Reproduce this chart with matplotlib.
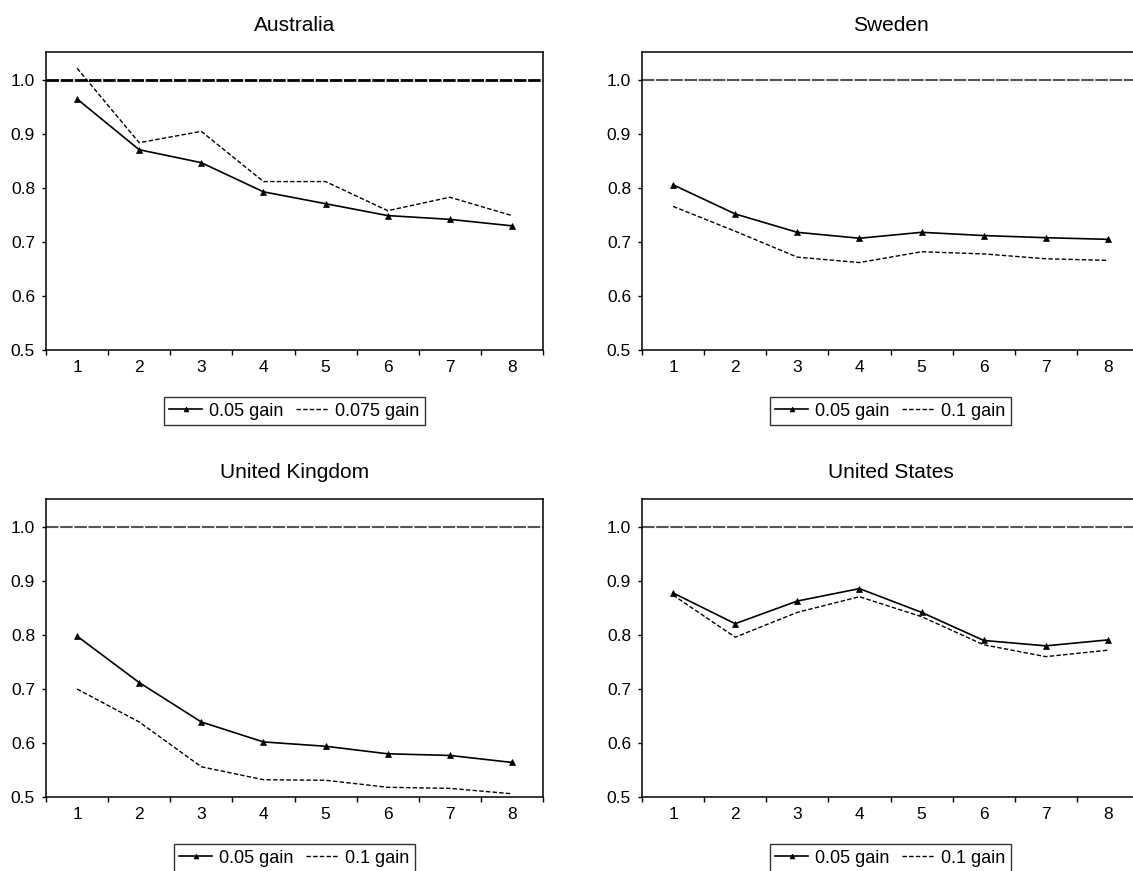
import matplotlib
matplotlib.use("Agg")
import matplotlib.pyplot as plt
from matplotlib.ticker import FixedLocator, NullFormatter, FixedFormatter

plt.rcParams['font.family'] = ['Liberation Sans', 'DejaVu Sans']
plt.rcParams['lines.scale_dashes'] = False

horizons = [1, 2, 3, 4, 5, 6, 7, 8]
countries = ["Australia", "Sweden", "United Kingdom", "United States"]

aus_005 = [0.965, 0.871, 0.847, 0.793, 0.771, 0.749, 0.742, 0.730]
aus_0075 = [1.022, 0.884, 0.905, 0.812, 0.812, 0.758, 0.783, 0.749]
swe_005 = [0.806, 0.752, 0.718, 0.707, 0.718, 0.712, 0.708, 0.705]
swe_01 = [0.766, 0.720, 0.672, 0.662, 0.682, 0.678, 0.669, 0.666]
uk_005 = [0.798, 0.712, 0.639, 0.602, 0.594, 0.580, 0.577, 0.564]
uk_01 = [0.700, 0.639, 0.556, 0.532, 0.531, 0.518, 0.516, 0.506]
us_005 = [0.878, 0.821, 0.863, 0.886, 0.842, 0.790, 0.780, 0.791]
us_01 = [0.874, 0.796, 0.842, 0.871, 0.834, 0.782, 0.760, 0.772]

series = [
    (aus_005, aus_0075, "0.05 gain", "0.075 gain"),
    (swe_005, swe_01, "0.05 gain", "0.1 gain"),
    (uk_005, uk_01, "0.05 gain", "0.1 gain"),
    (us_005, us_01, "0.05 gain", "0.1 gain"),
]
ref_level = 1.0
yticks = [0.5, 0.6, 0.7, 0.8, 0.9, 1.0]
ytick_labels = ["0.5", "0.6", "0.7", "0.8", "0.9", "1.0"]

W, H = 1133, 871
fig = plt.figure(figsize=(W / 100, H / 100), dpi=100)

boxes = [(46, 52, 543, 350), (642, 52, 1139, 350),
         (46, 499, 543, 797), (642, 499, 1139, 797)]
px = 72 / 100  # points per pixel

for i, (name, (s1, s2, l1, l2), (x0, y0, x1, y1)) in enumerate(zip(countries, series, boxes)):
    ax = fig.add_axes([x0 / W, 1 - y1 / H, (x1 - x0) / W, (y1 - y0) / H])
    if i == 0:
        ax.axhline(ref_level, color='black', lw=2.0, dashes=(9, 1.2), zorder=1)
    else:
        ax.axhline(ref_level, color='#555555', lw=1.5, dashes=(9, 1.2), zorder=1)
    h1, = ax.plot(horizons, s1, color='black', lw=1.2, marker='^', ms=4.2,
                  markeredgewidth=0.5, label=l1, zorder=3)
    h2, = ax.plot(horizons, s2, color='black', lw=1.0, dashes=(3.2, 1.6),
                  label=l2, zorder=2)
    ax.set_xlim(0.5, 8.5)
    ax.set_ylim(0.5, 1.052)
    ax.xaxis.set_major_locator(FixedLocator([k + 0.5 for k in range(0, 9)]))
    ax.xaxis.set_major_formatter(NullFormatter())
    ax.xaxis.set_minor_locator(FixedLocator(horizons))
    ax.xaxis.set_minor_formatter(FixedFormatter([str(h) for h in horizons]))
    ax.tick_params(axis='x', which='major', direction='out', length=5 * px, width=1.0)
    ax.tick_params(axis='x', which='minor', length=0, pad=10 * px, labelsize=12.5)
    ax.set_yticks(yticks)
    ax.set_yticklabels(ytick_labels)
    ax.tick_params(axis='y', direction='out', length=4 * px, width=1.0, pad=7 * px, labelsize=12.5)
    ax.tick_params(top=False, right=False)
    for sp in ax.spines.values():
        sp.set_linewidth(1.1)
        sp.set_color('black')
    cx = (x0 + x1) / 2
    fig.text(cx / W, 1 - (y0 - 21) / H, name, ha='center', va='baseline', fontsize=15)
    leg = fig.legend([h1, h2], [l1, l2], loc='center',
                     bbox_to_anchor=(cx / W, 1 - (y1 + 61) / H),
                     ncol=2, fontsize=13, frameon=True, fancybox=False,
                     numpoints=1, handlelength=1.8, handletextpad=0.4,
                     columnspacing=0.67, borderpad=0.3, borderaxespad=0)
    leg.get_frame().set_edgecolor('black')
    leg.get_frame().set_linewidth(1.0)
    for lh in leg.legend_handles:
        try:
            lh.set_markersize(3.5)
        except Exception:
            pass

fig.savefig("out.png", dpi=100)
